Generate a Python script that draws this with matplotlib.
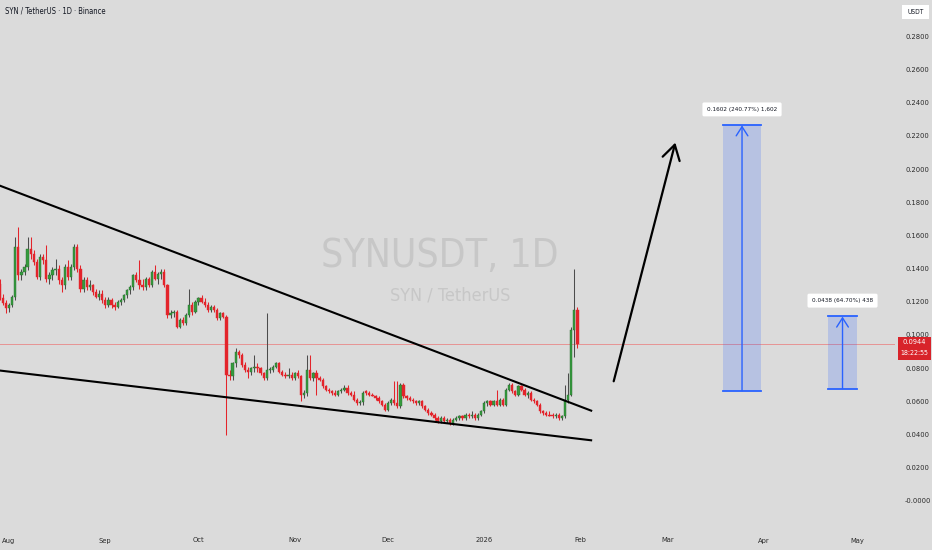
import matplotlib
matplotlib.use("Agg")
import matplotlib.pyplot as plt
import matplotlib.dates as mdates
from matplotlib.patches import Rectangle
from matplotlib import font_manager
from matplotlib.font_manager import FontProperties
import numpy as np
import pandas as pd

# ---------------- data ----------------
start_date = "2025-07-29"
opens = [
    .131, .122, .119, .116, .118, .123, .153, .136, .138, .141,
    .152, .149, .144, .135, .147, .145, .134, .136, .139, .140,
    .133, .130, .141, .135, .141, .153, .140, .128, .133, .129,
    .130, .126, .123, .125, .121, .118, .121, .118, .117, .120,
    .121, .124, .127, .129, .136, .133, .130, .129, .134, .130,
    .138, .134, .137, .138, .130, .112, .113, .114, .105, .109,
    .107, .112, .118, .114, .120, .122, .120, .118, .115, .117,
    .115, .110, .113, .111, .076, .075, .083, .090, .088, .082,
    .079, .078, .080, .081, .080, .077, .074, .079, .079, .081,
    .083, .078, .076, .075, .076, .074, .077, .075, .064, .065,
    .079, .074, .077, .074, .073, .069, .067, .066, .065, .064,
    .066, .067, .068, .065, .064, .061, .059, .0595, .066, .065,
    .064, .0635, .062, .060, .058, .055, .059, .061, .059, .057,
    .070, .063, .062, .061, .060, .059, .060, .057, .055, .053,
    .052, .050, .048, .050, .048, .049, .047, .049, .050, .051,
    .050, .052, .051, .052, .050, .052, .054, .059, .060, .058,
    .060, .058, .061, .058, .067, .070, .066, .064, .069, .067,
    .064, .065, .061, .060, .058, .054, .053, .052, .0515, .051,
    .052, .050, .051, .061, .064, .103, .115,
]
highs = [
    .134, .125, .121, .119, .124, .159, .165, .140, .143, .159,
    .159, .151, .146, .149, .149, .154, .138, .141, .146, .142,
    .135, .143, .145, .143, .155, .155, .142, .135, .135, .133,
    .131, .128, .127, .127, .123, .123, .122, .120, .121, .122,
    .125, .128, .130, .137, .138, .145, .134, .135, .135, .139,
    .142, .138, .140, .140, .131, .115, .115, .115, .110, .111,
    .113, .128, .120, .121, .123, .124, .122, .120, .118, .118,
    .116, .114, .114, .112, .079, .084, .092, .091, .089, .084,
    .081, .081, .088, .083, .081, .078, .113, .081, .082, .084,
    .084, .079, .078, .080, .078, .078, .079, .076, .067, .088,
    .088, .078, .079, .075, .074, .070, .068, .067, .067, .067,
    .068, .070, .070, .066, .066, .062, .061, .066, .067, .066,
    .065, .064, .063, .061, .059, .060, .062, .072, .072, .071,
    .071, .064, .063, .062, .061, .061, .061, .058, .056, .054,
    .053, .051, .051, .051, .050, .050, .050, .051, .052, .052,
    .053, .053, .054, .053, .053, .055, .060, .061, .061, .061,
    .067, .062, .062, .068, .071, .071, .067, .070, .070, .068,
    .066, .066, .062, .061, .059, .055, .054, .054, .053, .053,
    .053, .052, .070, .077, .105, .140, .117,
]
lows = [
    .121, .118, .113, .114, .117, .121, .133, .133, .136, .139,
    .146, .142, .134, .133, .143, .132, .131, .133, .136, .131,
    .126, .128, .133, .133, .139, .138, .126, .126, .127, .127,
    .124, .122, .121, .119, .116, .117, .116, .115, .116, .118,
    .120, .122, .125, .127, .132, .128, .127, .127, .129, .129,
    .133, .131, .134, .129, .110, .110, .111, .104, .104, .106,
    .106, .111, .112, .113, .118, .119, .117, .114, .114, .114,
    .109, .109, .110, .040, .073, .073, .081, .086, .081, .078,
    .074, .076, .078, .078, .076, .073, .073, .077, .078, .080,
    .077, .075, .074, .074, .073, .073, .074, .060, .062, .063,
    .073, .072, .064, .072, .068, .066, .065, .064, .063, .063,
    .065, .066, .064, .063, .060, .058, .058, .058, .064, .063,
    .063, .061, .059, .057, .054, .054, .058, .058, .056, .056,
    .062, .061, .060, .059, .058, .058, .056, .054, .052, .051,
    .049, .047, .047, .047, .047, .046, .046, .048, .049, .049,
    .049, .050, .050, .049, .049, .051, .053, .057, .057, .057,
    .057, .057, .057, .057, .066, .065, .063, .063, .066, .063,
    .062, .060, .059, .057, .053, .052, .051, .051, .050, .050,
    .049, .049, .050, .059, .063, .087, .092,
]
closes = [
    .122, .119, .116, .118, .123, .153, .136, .138, .141, .152,
    .149, .144, .135, .147, .145, .134, .136, .139, .140, .133,
    .130, .141, .135, .141, .153, .140, .128, .133, .129, .130,
    .126, .123, .125, .121, .118, .121, .118, .117, .120, .121,
    .124, .127, .129, .136, .133, .130, .129, .134, .130, .138,
    .134, .137, .138, .130, .112, .113, .114, .105, .109, .107,
    .112, .118, .114, .120, .122, .120, .118, .115, .117, .115,
    .110, .113, .111, .076, .075, .083, .090, .088, .082, .079,
    .078, .080, .081, .080, .077, .074, .079, .079, .081, .083,
    .078, .076, .075, .076, .074, .077, .075, .064, .065, .079,
    .074, .077, .074, .073, .069, .067, .066, .065, .064, .066,
    .067, .068, .065, .064, .061, .059, .0595, .065, .065, .064,
    .0635, .062, .060, .058, .055, .059, .061, .059, .057, .070,
    .063, .062, .061, .060, .059, .060, .057, .055, .053, .052,
    .050, .048, .050, .048, .049, .047, .049, .050, .051, .050,
    .052, .051, .052, .050, .052, .054, .059, .060, .058, .060,
    .058, .061, .058, .067, .070, .066, .064, .069, .067, .064,
    .065, .061, .060, .058, .054, .053, .052, .0515, .051, .052,
    .050, .051, .061, .064, .103, .115, .0944,
]

# drawings (time, price)
upper_trend = [("2025-07-29", 0.1900), ("2026-02-04 18:00", 0.0542)]
lower_trend = [("2025-07-29", 0.0786), ("2026-02-04 18:00", 0.0365)]
big_arrow = [("2026-02-11 11:00", 0.0705), ("2026-03-03 18:00", 0.2175)]
target1 = {"start": "2026-03-18 22:00", "end": "2026-03-31 02:00",
           "base": 0.0665, "gain": 0.1602, "pct": 240.77, "ticks": "1,602"}
target2 = {"start": "2026-04-21 17:00", "end": "2026-05-01 00:00",
           "base": 0.0677, "gain": 0.0438, "pct": 64.70, "ticks": "438"}

ytick_values = [0.00, 0.02, 0.04, 0.06, 0.08, 0.10, 0.12, 0.14,
                0.16, 0.18, 0.20, 0.22, 0.24, 0.26, 0.28]
ytick_labels = ["-0.0000", "0.0200", "0.0400", "0.0600", "0.0800", "0.1000",
                "0.1200", "0.1400", "0.1600", "0.1800", "0.2000", "0.2200",
                "0.2400", "0.2600", "0.2800"]
xtick_dates = ["2025-08-01", "2025-09-01", "2025-10-01", "2025-11-01",
               "2025-12-01", "2026-01-01", "2026-02-01", "2026-03-01",
               "2026-04-01", "2026-05-01"]
xtick_labels = ["Aug", "Sep", "Oct", "Nov", "Dec", "2026", "Feb", "Mar", "Apr", "May"]

title_text = "SYN / TetherUS · 1D · Binance"
watermark = "SYNUSDT, 1D"
watermark_sub = "SYN / TetherUS"
countdown = "18:22:55"

# ---------------- fonts ----------------
narrow_path = None
for f in font_manager.fontManager.ttflist:
    nm = f.name.lower()
    if ("sans" in nm or "roboto" in nm) and (
            "narrow" in nm or "condensed" in nm or
            str(f.stretch) in ("condensed", "semi-condensed", "extra-condensed")):
        if f.weight in (400, "normal", "regular") and f.style == "normal":
            narrow_path = f.fname
            break
names = {f.name for f in font_manager.fontManager.ttflist}
BASE = "Liberation Sans" if "Liberation Sans" in names else "DejaVu Sans"
plt.rcParams["font.family"] = [BASE, "DejaVu Sans"]
if narrow_path:
    FP = FontProperties(fname=narrow_path)
    K = 1.0
else:
    FP = FontProperties(family=[BASE, "DejaVu Sans"])
    K = 0.88

def fp(size, bold=False):
    p = FP.copy()
    p.set_size(size * K)
    if bold:
        p.set_weight("bold")
    return p

BG = "#DBDBDB"
GREEN = "#359B3D"
GREEN_EDGE = "#2A6B2F"
GREEN_WICK = "#4C4C4C"
RED = "#E3242B"
BLUE = "#2962FF"
W, H = 932, 550

fig = plt.figure(figsize=(W / 100, H / 100), dpi=100, facecolor=BG)
ax = fig.add_axes([0, 25 / H, 895 / W, 525 / H])
ax.set_facecolor(BG)
for s in ax.spines.values():
    s.set_visible(False)

dates = pd.date_range(start_date, periods=len(closes), freq="D")
x = mdates.date2num(dates)
o = np.array(opens); h = np.array(highs); l = np.array(lows); c = np.array(closes)
up = c >= o

# candles
ax.vlines(x[up], l[up], h[up], color=GREEN_WICK, lw=0.75, zorder=2)
ax.vlines(x[~up], l[~up], h[~up], color=RED, lw=0.75, zorder=2)
body = np.maximum(np.abs(c - o), 0.0006)
bottom = np.minimum(o, c)
ax.bar(x[up], body[up], bottom=bottom[up], width=0.74, color=GREEN,
       edgecolor=GREEN_EDGE, linewidth=0.3, zorder=3)
ax.bar(x[~up], body[~up], bottom=bottom[~up], width=0.74, color=RED,
       edgecolor=RED, linewidth=0.3, zorder=3)

# last price line
ax.axhline(closes[-1], color="#E79393", lw=0.7, zorder=1.5)

def tnum(s):
    return mdates.date2num(pd.Timestamp(s))

# trend lines
for line in (upper_trend, lower_trend):
    ax.plot([tnum(p[0]) for p in line], [p[1] for p in line],
            color="black", lw=1.5, zorder=4, solid_capstyle="butt")

# big arrow
ax.annotate("", xy=(tnum(big_arrow[1][0]), big_arrow[1][1]),
            xytext=(tnum(big_arrow[0][0]), big_arrow[0][1]),
            arrowprops=dict(arrowstyle="->,head_length=0.75,head_width=0.45",
                            color="black", lw=1.6, mutation_scale=14),
            zorder=4)

# target boxes
for tg in (target1, target2):
    x0, x1 = tnum(tg["start"]), tnum(tg["end"])
    b, t = tg["base"], tg["base"] + tg["gain"]
    xm = (x0 + x1) / 2
    ax.add_patch(Rectangle((x0, b), x1 - x0, t - b, facecolor=BLUE,
                           alpha=0.2, edgecolor="none", zorder=2))
    ax.plot([x0, x1], [b, b], color=BLUE, lw=1.3, zorder=3)
    ax.plot([x0, x1], [t, t], color=BLUE, lw=1.3, zorder=3)
    ax.annotate("", xy=(xm, t), xytext=(xm, b),
                arrowprops=dict(arrowstyle="->,head_length=0.55,head_width=0.35",
                                color=BLUE, lw=1.0, mutation_scale=12,
                                shrinkA=0, shrinkB=0.5), zorder=3)
    label = f"{tg['gain']:.4f} ({tg['pct']:.2f}%) {tg['ticks']}"
    ax.text(xm, t + 0.0092, label, ha="center", va="center",
            fontproperties=fp(4.6), color="#131722", zorder=6,
            bbox=dict(boxstyle="round,pad=0.7,rounding_size=0.25",
                      fc="white", ec="none"))

# watermark
ax.text(440 / W, 1 - 266.5 / H, watermark, transform=fig.transFigure,
        ha="center", va="baseline", fontproperties=fp(28),
        color="#C7C7C7", zorder=0.5)
ax.text(450 / W, 1 - 300 / H, watermark_sub, transform=fig.transFigure,
        ha="center", va="baseline", fontproperties=fp(13),
        color="#C7C7C7", zorder=0.5)

# axes
ax.set_xlim(tnum("2025-08-01") - 2.898, tnum("2025-08-01") + 285.25)
ax.set_ylim(-0.01446, 0.30181)
ax.yaxis.tick_right()
ax.set_yticks(ytick_values)
ax.set_yticklabels(ytick_labels)
ax.tick_params(axis="y", length=0, pad=7.3, colors="#2A2A2A")
ax.set_xticks([tnum(d) for d in xtick_dates])
ax.set_xticklabels(xtick_labels)
ax.tick_params(axis="x", length=0, pad=9, colors="#2A2A2A")
for lbl in ax.get_yticklabels() + ax.get_xticklabels():
    lbl.set_fontproperties(fp(5.4))

# title
fig.text(5 / W, 1 - 10.5 / H, title_text, fontproperties=fp(5.5),
         va="center", ha="left", color="#131722")

# USDT box
fig.add_artist(Rectangle((902 / W, 1 - 19 / H), 27 / W, 14 / H,
                         transform=fig.transFigure, fc="white", ec="none"))
fig.text(915.5 / W, 1 - 12 / H, "USDT", fontproperties=fp(4.8), ha="center",
         va="center", color="#131722")

# price tag
fig.add_artist(Rectangle((898 / W, 1 - 360 / H), 33 / W, 23 / H,
                         transform=fig.transFigure, fc="#D8232A", ec="none"))
fig.text(914 / W, 1 - 342.5 / H, f"{closes[-1]:.4f}", fontproperties=fp(5.3, True),
         ha="center", va="center", color="white")
fig.text(914 / W, 1 - 353 / H, countdown, fontproperties=fp(5.0), ha="center",
         va="center", color="white")

fig.savefig("out.png", dpi=100, facecolor=BG)
